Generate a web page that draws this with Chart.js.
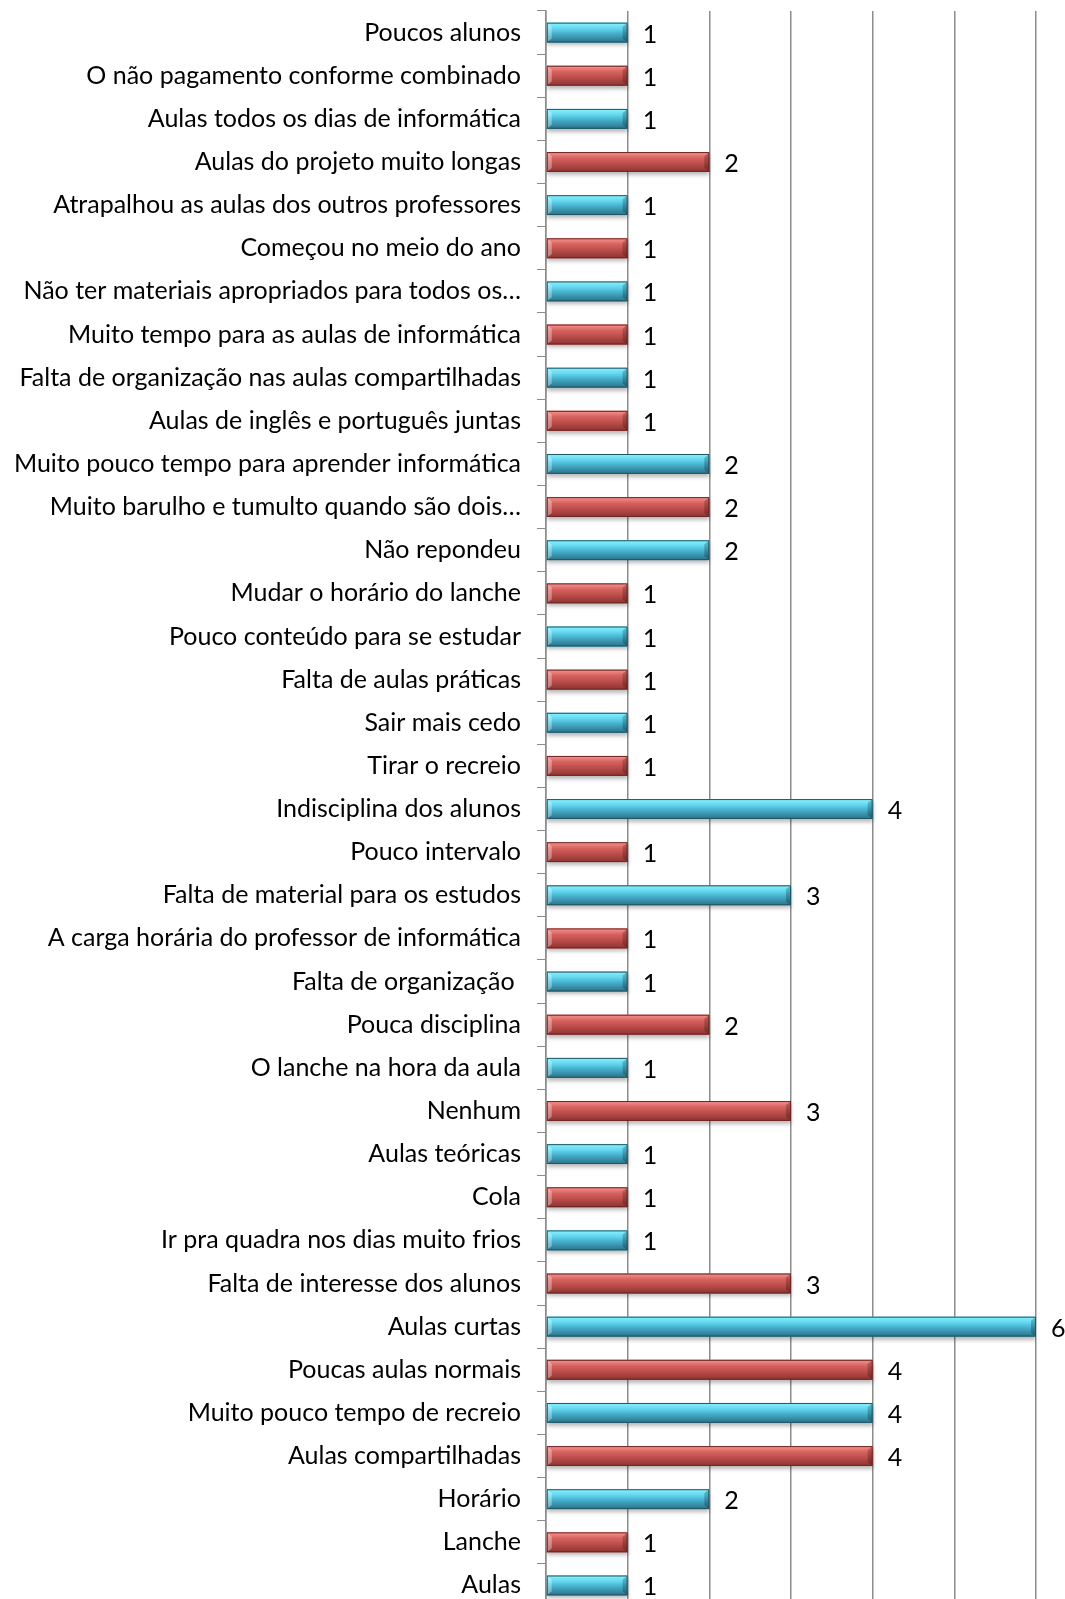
<!DOCTYPE html>
<html>
<head>
<meta charset="utf-8">
<script src="https://cdn.jsdelivr.net/npm/chart.js@4.4.0/dist/chart.umd.min.js"></script>
<style>
  html, body { margin: 0; padding: 0; background: #fff; overflow: hidden; }
  #wrap { width: 1065px; height: 1612px; }
</style>
</head>
<body>
<div id="wrap"><canvas id="chart" width="1065" height="1612"></canvas></div>
<script>
// categories, top to bottom as they appear
const categories = [
  "Poucos alunos",
  "O não pagamento conforme combinado",
  "Aulas todos os dias de informática",
  "Aulas do projeto muito longas",
  "Atrapalhou as aulas dos outros professores",
  "Começou no meio do ano",
  "Não ter materiais apropriados para todos os…",
  "Muito tempo para as aulas de informática",
  "Falta de organização nas aulas compartilhadas",
  "Aulas de inglês e português juntas",
  "Muito pouco tempo para aprender informática",
  "Muito barulho e tumulto quando são dois…",
  "Não repondeu",
  "Mudar o horário do lanche",
  "Pouco conteúdo para se estudar",
  "Falta de aulas práticas",
  "Sair mais cedo",
  "Tirar o recreio",
  "Indisciplina dos alunos",
  "Pouco intervalo",
  "Falta de material para os estudos",
  "A carga horária do professor de informática",
  "Falta de organização ",
  "Pouca disciplina",
  "O lanche na hora da aula",
  "Nenhum",
  "Aulas teóricas",
  "Cola",
  "Ir pra quadra nos dias muito frios",
  "Falta de interesse dos alunos",
  "Aulas curtas",
  "Poucas aulas normais",
  "Muito pouco tempo de recreio",
  "Aulas compartilhadas",
  "Horário",
  "Lanche",
  "Aulas"
];

const counts = [
  1, 1, 1, 2, 1, 1, 1, 1, 1, 1,
  2, 2, 2, 1, 1, 1, 1, 1, 4, 1,
  3, 1, 1, 2, 1, 3, 1, 1, 1, 3,
  6, 4, 4, 4, 2, 1, 1
];

const xTicks = [0, 1, 2, 3, 4, 5, 6];

// ------------------------------
// Colours
// ------------------------------
const BLUE = { base: "#46B0CC", light: "#8CF2FF", mid: "#62D6EE", dark: "#2A7086", edge: "#1F5666" };
const RED = { base: "#C0504D", light: "#F8958F", mid: "#D6625F", dark: "#8C3331", edge: "#6E2624" };
const FONT = "Lato, 'Open Sans', sans-serif";
const FONT_SIZE = 25;

function paletteFor(i) {
  return i % 2 === 0 ? BLUE : RED;
}

// ------------------------------
// Plugins: bevel shading + value labels
// ------------------------------
const bevelBars = {
  id: "bevelBars",
  beforeDatasetDraw(chart) {
    const ctx = chart.ctx;
    ctx.save();
    ctx.shadowColor = "rgba(0,0,0,0.28)";
    ctx.shadowBlur = 4;
    ctx.shadowOffsetY = 3;
  },
  afterDatasetDraw(chart) {
    const ctx = chart.ctx;
    ctx.restore();
    const meta = chart.getDatasetMeta(0);
    meta.data.forEach((bar, i) => {
      const p = paletteFor(i);
      const left = bar.base, right = bar.x;
      const top = bar.y - bar.height / 2, bottom = bar.y + bar.height / 2;
      const h = bottom - top;
      const g = ctx.createLinearGradient(0, top, 0, bottom);
      g.addColorStop(0, p.light);
      g.addColorStop(0.3, p.mid);
      g.addColorStop(0.55, p.base);
      g.addColorStop(1, p.dark);
      ctx.save();
      ctx.fillStyle = g;
      ctx.fillRect(left, top, right - left, h);
      // bevel at both ends
      const b = 5;
      ctx.fillStyle = "rgba(255,255,255,0.35)";
      ctx.beginPath();
      ctx.moveTo(left, top); ctx.lineTo(left + b, top + b * 0.8);
      ctx.lineTo(left + b, bottom - b * 0.8); ctx.lineTo(left, bottom);
      ctx.closePath(); ctx.fill();
      ctx.fillStyle = "rgba(0,0,0,0.22)";
      ctx.beginPath();
      ctx.moveTo(right, top); ctx.lineTo(right - b, top + b * 0.8);
      ctx.lineTo(right - b, bottom - b * 0.8); ctx.lineTo(right, bottom);
      ctx.closePath(); ctx.fill();
      ctx.strokeStyle = p.edge;
      ctx.lineWidth = 1;
      ctx.strokeRect(left + 0.5, top + 0.5, right - left - 1, h - 1);
      ctx.restore();
    });
  }
};

const valueLabels = {
  id: "valueLabels",
  afterDatasetsDraw(chart) {
    const ctx = chart.ctx;
    const meta = chart.getDatasetMeta(0);
    ctx.save();
    ctx.font = FONT_SIZE + "px " + FONT;
    ctx.fillStyle = "#000";
    ctx.textAlign = "left";
    ctx.textBaseline = "middle";
    meta.data.forEach((bar, i) => {
      ctx.fillText(String(counts[i]), bar.x + 15, bar.y + 2);
    });
    ctx.restore();
  }
};

// ------------------------------
// Chart
// ------------------------------
new Chart(document.getElementById("chart").getContext("2d"), {
  type: "bar",
  data: {
    labels: categories,
    datasets: [{
      data: counts,
      backgroundColor: ctx => paletteFor(ctx.dataIndex).base,
      borderWidth: 0,
      barPercentage: 0.46,
      categoryPercentage: 1.0
    }]
  },
  options: {
    indexAxis: "y",
    responsive: false,
    animation: false,
    layout: { padding: { top: 11, right: 29, bottom: 5, left: 0 } },
    plugins: {
      legend: { display: false },
      tooltip: { enabled: false }
    },
    scales: {
      x: {
        min: xTicks[0],
        max: xTicks[xTicks.length - 1],
        afterBuildTicks: axis => { axis.ticks = xTicks.map(v => ({ value: v })); },
        afterFit: axis => { axis.height = 0; axis.paddingLeft = 0; axis.paddingRight = 0; },
        ticks: { display: false },
        border: { display: false },
        grid: { color: "#8c8c8c", lineWidth: 1.5, drawTicks: false }
      },
      y: {
        afterFit: axis => { axis.width = 546; axis.paddingTop = 0; axis.paddingBottom = 0; },
        border: { display: true, color: "#8c8c8c", width: 1.5 },
        grid: { drawOnChartArea: false, color: "#8c8c8c", tickLength: 9, offset: true },
        ticks: {
          color: "#000",
          padding: 16,
          autoSkip: false,
          crossAlign: "near",
          font: { family: FONT, size: FONT_SIZE }
        }
      }
    }
  },
  plugins: [bevelBars, valueLabels]
});
</script>
</body>
</html>
